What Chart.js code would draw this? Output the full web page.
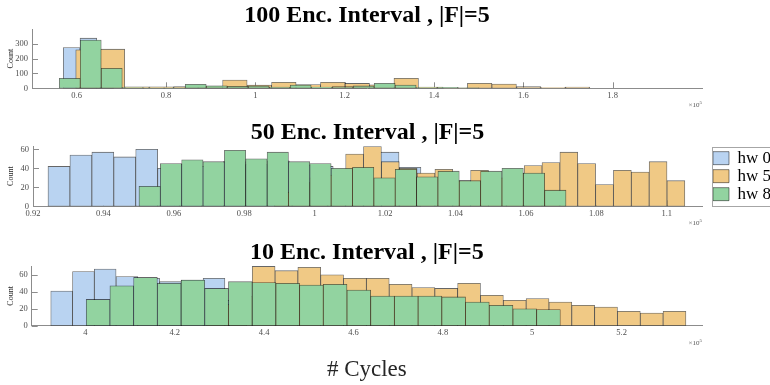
<!DOCTYPE html>
<html>
<head>
<meta charset="utf-8">
<script src="https://cdn.jsdelivr.net/npm/chart.js@4.4.0/dist/chart.umd.min.js"></script>
<style>
  body { margin: 0; background: #fff; }
  #wrap { position: relative; width: 770px; height: 385px; overflow: hidden; }
  #wrap canvas { position: absolute; left: 0; }
</style>
</head>
<body>
<div id="wrap">
  <canvas id="enc100" width="770" height="112" style="top:0px"></canvas>
  <canvas id="enc50" width="770" height="120" style="top:112px"></canvas>
  <canvas id="enc10" width="770" height="153" style="top:232px"></canvas>
</div>
<script>
const seriesNames = ['hw 0', 'hw 5', 'hw 8'];

// cycles are in units of 1e5; per series: first bin edge, bin width, counts
const enc100Start = [0.570, 0.598, 0.561];
const enc100Width = [0.0375, 0.0548, 0.047];
const enc100Hw0 = [275, 338, 200];
const enc100Hw5 = [260, 264, 10, 10, 12, 15, 56, 22, 41, 25, 41, 33, 24, 68, 9, 3, 34, 29, 11, 5, 8];
const enc100Hw8 = [68, 325, 135, 5, 3, 3, 27, 17, 14, 16, 8, 22, 9, 11, 16, 34, 22, 5, 6, 4];
const enc100XTicks = [0.6, 0.8, 1, 1.2, 1.4, 1.6, 1.8];
const enc100XLabels = ['0.6', '0.8', '1', '1.2', '1.4', '1.6', '1.8'];
const enc100YTicks = [0, 100, 200, 300];

const enc50Start = [0.92426, 0.98852, 0.9501];
const enc50Width = [0.00623, 0.00507, 0.006064];
const enc50Hw0 = [42, 54, 57, 52, 60, 40, 44, 42, 47, 44, 48, 43, 42, 38, 40, 57, 41];
const enc50Hw5 = [15, 25, 30, 33, 55, 63, 47, 40, 35, 39, 27, 38, 30, 35, 43, 46, 57, 45, 23, 38, 36, 47, 27];
const enc50Hw8 = [21, 45, 49, 47, 59, 50, 57, 47, 45, 40, 41, 30, 39, 31, 37, 27, 37, 40, 35, 17];
const enc50XTicks = [0.92, 0.94, 0.96, 0.98, 1, 1.02, 1.04, 1.06, 1.08, 1.1];
const enc50XLabels = ['0.92', '0.94', '0.96', '0.98', '1', '1.02', '1.04', '1.06', '1.08', '1.1'];
const enc50YTicks = [0, 20, 40, 60];

const enc10Start = [3.9227, 4.27134, 4.002];
const enc10Width = [0.0487, 0.05108, 0.05305];
const enc10Hw0 = [41, 64, 67, 58, 56, 52, 54, 56, 30];
const enc10Hw5 = [25, 35, 70, 65, 69, 60, 56, 56, 49, 45, 44, 50, 36, 30, 32, 28, 24, 22, 17, 15, 17];
const enc10Hw8 = [31, 47, 57, 50, 54, 44, 52, 51, 50, 48, 49, 42, 35, 35, 35, 34, 28, 24, 20, 19];
const enc10XTicks = [4, 4.2, 4.4, 4.6, 4.8, 5, 5.2];
const enc10XLabels = ['4', '4.2', '4.4', '4.6', '4.8', '5', '5.2'];
const enc10YTicks = [0, 20, 40, 60];

const fillColors = ['#b9d3f1', '#f0c985', '#92d3a0'];
const edgeColor = 'rgba(0, 0, 0, 0.6)';
const serif = "'Liberation Serif', 'Times New Roman', serif";

function histogram(start, width, counts) {
    return counts.map((count, i) => ({ x: start + (i + 0.5) * width, y: count }));
}

// bar width = one bin, converted by the x scale
function binThickness(width) {
    return function (ctx) {
        const x = ctx.chart.scales.x;
        return x.getPixelForValue(width) - x.getPixelForValue(0);
    };
}

function histDatasets(starts, widths, series) {
    return series.map((counts, k) => ({
        label: seriesNames[k],
        data: histogram(starts[k], widths[k], counts),
        backgroundColor: fillColors[k],
        borderColor: edgeColor,
        borderWidth: 0.8,
        borderSkipped: false,
        grouped: false,
        order: 3 - k,
        barThickness: binThickness(widths[k])
    }));
}

// inward tick marks and the x10^5 exponent, MATLAB style
const matlabAxes = {
    id: 'matlabAxes',
    beforeDatasetsDraw(chart) {
        const { ctx, chartArea: a, scales: { x, y } } = chart;
        ctx.save();
        ctx.strokeStyle = '#8c8c8c';
        ctx.lineWidth = 1;
        ctx.beginPath();
        x.ticks.forEach(t => {
            const px = Math.round(x.getPixelForValue(t.value)) + 0.5;
            ctx.moveTo(px, a.bottom);
            ctx.lineTo(px, a.bottom - 6);
        });
        y.ticks.forEach(t => {
            const py = Math.round(y.getPixelForValue(t.value)) + 0.5;
            ctx.moveTo(a.left, py);
            ctx.lineTo(a.left + 6, py);
        });
        ctx.stroke();
        ctx.restore();
    },
    afterDraw(chart) {
        const { ctx, chartArea: a } = chart;
        ctx.save();
        ctx.fillStyle = '#555';
        ctx.textAlign = 'right';
        ctx.textBaseline = 'alphabetic';
        ctx.font = '5px ' + serif;
        ctx.fillText('5', a.right, a.bottom + 16);
        const w = ctx.measureText('5').width;
        ctx.font = '7px ' + serif;
        ctx.fillText('\u00d710', a.right - w, a.bottom + 19);
        ctx.restore();
    }
};

// legend sits a little away from the axes, inside a grey frame
const legendFrame = {
    id: 'legendFrame',
    afterLayout(chart) {
        const lg = chart.legend;
        lg.left = chart.chartArea.right + 10;
        lg.width = 100;
        lg.right = lg.left + lg.width;
    },
    afterDraw(chart) {
        const { ctx, chartArea: a, legend: lg } = chart;
        ctx.save();
        ctx.strokeStyle = '#a6a6a6';
        ctx.lineWidth = 1;
        ctx.strokeRect(Math.round(lg.left) + 0.5, Math.round(a.top) + 1.5, 120, Math.round(a.bottom - a.top) - 1);
        ctx.restore();
    }
};

function panel(id, cfg) {
    const ctx = document.getElementById(id).getContext('2d');
    const tickFont = { family: serif, size: 8.5 };
    return new Chart(ctx, {
        type: 'bar',
        data: { datasets: histDatasets(cfg.starts, cfg.widths, cfg.series) },
        options: {
            responsive: false,
            animation: false,
            layout: { padding: { left: 0, right: cfg.padRight, top: 0, bottom: 0 } },
            plugins: {
                title: {
                    display: true,
                    text: cfg.title,
                    fullSize: false,
                    color: '#000',
                    font: { family: serif, size: 24, weight: 'bold', lineHeight: 1 },
                    padding: { top: cfg.titleTop, bottom: 1.3 }
                },
                legend: cfg.legend ? {
                    display: true,
                    position: 'right',
                    fullSize: false,
                    maxWidth: 50,
                    labels: {
                        boxWidth: 16,
                        boxHeight: 13,
                        padding: 1,
                        color: '#000',
                        font: { family: serif, size: 17 },
                        sort: (a, b) => a.datasetIndex - b.datasetIndex
                    }
                } : { display: false },
                tooltip: { enabled: false }
            },
            scales: {
                x: {
                    type: 'linear',
                    min: cfg.xMin,
                    max: cfg.xMax,
                    offset: false,
                    grid: { display: false, drawTicks: false },
                    border: { display: true, color: '#8c8c8c', width: 1 },
                    ticks: {
                        autoSkip: false,
                        maxRotation: 0,
                        padding: 2,
                        color: '#4d4d4d',
                        font: tickFont,
                        callback: (value, index) => cfg.xLabels[index]
                    },
                    afterBuildTicks: scale => { scale.ticks = cfg.xTicks.map(v => ({ value: v })); },
                    afterFit: scale => { scale.height = cfg.xHeight; },
                    title: cfg.xTitle ? {
                        display: true,
                        text: cfg.xTitle,
                        color: '#262626',
                        font: { family: serif, size: 23, lineHeight: 1 },
                        padding: { top: 0, bottom: 3.8 }
                    } : { display: false }
                },
                y: {
                    min: 0,
                    max: cfg.yMax,
                    grid: { display: false, drawTicks: false },
                    border: { display: true, color: '#8c8c8c', width: 1 },
                    ticks: {
                        padding: 4,
                        color: '#4d4d4d',
                        font: tickFont
                    },
                    afterBuildTicks: scale => { scale.ticks = cfg.yTicks.map(v => ({ value: v })); },
                    afterFit: scale => { scale.width = cfg.yWidth; },
                    title: {
                        display: true,
                        text: 'Count',
                        color: '#262626',
                        font: { family: serif, size: 8 },
                        padding: { top: 6, bottom: 0 }
                    }
                }
            }
        },
        plugins: cfg.legend ? [matlabAxes, legendFrame] : [matlabAxes]
    });
}

panel('enc100', {
    title: '100 Enc. Interval , |F|=5',
    starts: enc100Start, widths: enc100Width,
    series: [enc100Hw0, enc100Hw5, enc100Hw8],
    xMin: 0.5, xMax: 2.0, xTicks: enc100XTicks, xLabels: enc100XLabels,
    yMax: 400, yTicks: enc100YTicks,
    titleTop: 3.7, xHeight: 23.7, yWidth: 32, padRight: 68
});

panel('enc50', {
    title: '50 Enc. Interval , |F|=5',
    starts: enc50Start, widths: enc50Width,
    series: [enc50Hw0, enc50Hw5, enc50Hw8],
    xMin: 0.92, xMax: 1.11, xTicks: enc50XTicks, xLabels: enc50XLabels,
    yMax: 63.5, yTicks: enc50YTicks,
    titleTop: 8.7, xHeight: 25.7, yWidth: 33, padRight: 18,
    legend: true
});

panel('enc10', {
    title: '10 Enc. Interval , |F|=5',
    starts: enc10Start, widths: enc10Width,
    series: [enc10Hw0, enc10Hw5, enc10Hw8],
    xMin: 3.88, xMax: 5.38, xTicks: enc10XTicks, xLabels: enc10XLabels,
    yMax: 70.5, yTicks: enc10YTicks,
    titleTop: 8.7, xHeight: 59.3, yWidth: 31.7, padRight: 68,
    xTitle: '# Cycles'
});
</script>
</body>
</html>
